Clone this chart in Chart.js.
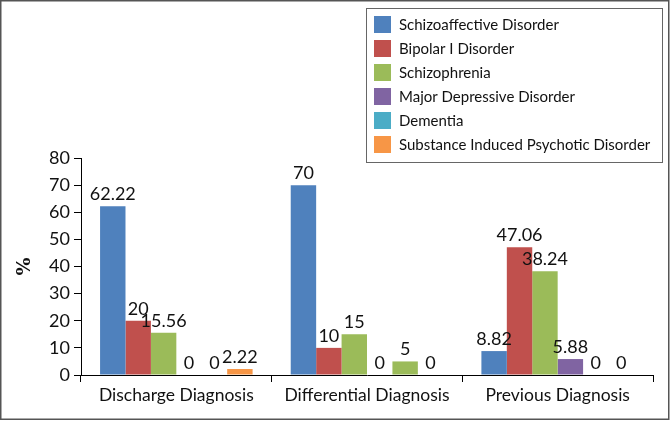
<!DOCTYPE html>
<html>
<head>
<meta charset="utf-8">
<script src="https://cdn.jsdelivr.net/npm/chart.js@4.4.1/dist/chart.umd.min.js"></script>
<style>
  html, body { margin: 0; padding: 0; background: #fff; }
  canvas { display: block; }
</style>
</head>
<body>
<canvas id="diagnosis-chart" width="670" height="421"></canvas>
<script>
const categories = ['Discharge Diagnosis', 'Differential Diagnosis', 'Previous Diagnosis'];
const schizoaffective = [62.22, 70, 8.82];
const bipolarI = [20, 10, 47.06];
const schizophrenia = [15.56, 15, 38.24];
const majorDepressive = [0, 0, 5.88];
const dementia = [0, 5, 0];
const substanceInduced = [2.22, 0, 0];
const yMax = 80;
const yStep = 10;

const FONT = 'Lato, "Open Sans", sans-serif';

// white page + thin frame round the whole figure
const framePlugin = {
  id: 'frame',
  beforeDraw(chart) {
    const c = chart.ctx;
    c.save();
    c.fillStyle = '#fff';
    c.fillRect(0, 0, chart.width, chart.height);
    c.strokeStyle = '#555';
    c.lineWidth = 1.5;
    c.strokeRect(0.75, 0.75, chart.width - 2, chart.height - 2.5);
    c.restore();
  }
};

// value over each bar, zeros too
const valueLabels = {
  id: 'valueLabels',
  afterDatasetsDraw(chart) {
    const c = chart.ctx;
    c.save();
    c.font = '18px ' + FONT;
    c.fillStyle = '#111';
    c.textAlign = 'center';
    c.textBaseline = 'bottom';
    chart.data.datasets.forEach((ds, i) => {
      chart.getDatasetMeta(i).data.forEach((bar, j) => {
        c.fillText(String(ds.data[j]), bar.x, bar.y - 3);
      });
    });
    c.restore();
  }
};

// boxed legend sitting over the top right of the plot
const boxLegend = {
  id: 'boxLegend',
  afterDraw(chart) {
    const c = chart.ctx;
    const x = 366, y = 8, w = 296, h = 154;
    c.save();
    c.fillStyle = '#fff';
    c.fillRect(x, y, w, h);
    c.strokeStyle = '#666';
    c.lineWidth = 1;
    c.strokeRect(x + 0.5, y + 0.5, w, h);
    c.font = '15px ' + FONT;
    c.textBaseline = 'middle';
    chart.data.datasets.forEach((ds, i) => {
      const cy = y + 16 + i * 24;
      c.fillStyle = ds.legendColor;
      c.fillRect(x + 8, cy - 8, 17, 17);
      c.fillStyle = '#111';
      c.fillText(ds.label, x + 33, cy + 1);
    });
    c.restore();
  }
};

const ctx = document.getElementById('diagnosis-chart').getContext('2d');

new Chart(ctx, {
  type: 'bar',
  data: {
    labels: categories,
    datasets: [
      { label: 'Schizoaffective Disorder', data: schizoaffective, backgroundColor: '#4f81bd', legendColor: '#4f81bd' },
      { label: 'Bipolar I Disorder', data: bipolarI, backgroundColor: '#c0504d', legendColor: '#c0504d' },
      { label: 'Schizophrenia', data: schizophrenia, backgroundColor: '#9bbb59', legendColor: '#9bbb59' },
      { label: 'Major Depressive Disorder', data: majorDepressive, backgroundColor: '#8064a2', legendColor: '#8064a2' },
      // the 5 in the original is drawn green
      { label: 'Dementia', data: dementia, backgroundColor: ['#4bacc6', '#9bbb59', '#4bacc6'], legendColor: '#4bacc6' },
      { label: 'Substance Induced Psychotic Disorder', data: substanceInduced, backgroundColor: '#f79646', legendColor: '#f79646' },
    ]
  },
  options: {
    responsive: false,
    animation: false,
    categoryPercentage: 0.8,
    barPercentage: 1.0,
    layout: {
      padding: { left: 10, right: 17, top: 158, bottom: 8 }
    },
    plugins: {
      legend: { display: false },
      tooltip: { enabled: false }
    },
    scales: {
      y: {
        min: 0,
        max: yMax,
        afterFit(scale) { scale.width = 71; },
        ticks: {
          stepSize: yStep,
          padding: 4,
          color: '#111',
          font: { family: FONT, size: 18 }
        },
        grid: {
          drawOnChartArea: false,
          tickLength: 7,
          color: '#000'
        },
        border: { color: '#000', width: 1 },
        title: {
          display: true,
          text: '%',
          color: '#111',
          padding: { top: 4, bottom: 0 },
          font: { family: '"DejaVu Serif", serif', size: 19, weight: 'bold' }
        }
      },
      x: {
        afterFit(scale) { scale.height = 38; },
        ticks: {
          padding: 3,
          color: '#111',
          font: { family: FONT, size: 17.5 }
        },
        grid: {
          offset: true,
          drawOnChartArea: false,
          tickLength: 7,
          color: '#000'
        },
        border: { color: '#000', width: 1 }
      }
    }
  },
  plugins: [framePlugin, valueLabels, boxLegend]
});
</script>
</body>
</html>
